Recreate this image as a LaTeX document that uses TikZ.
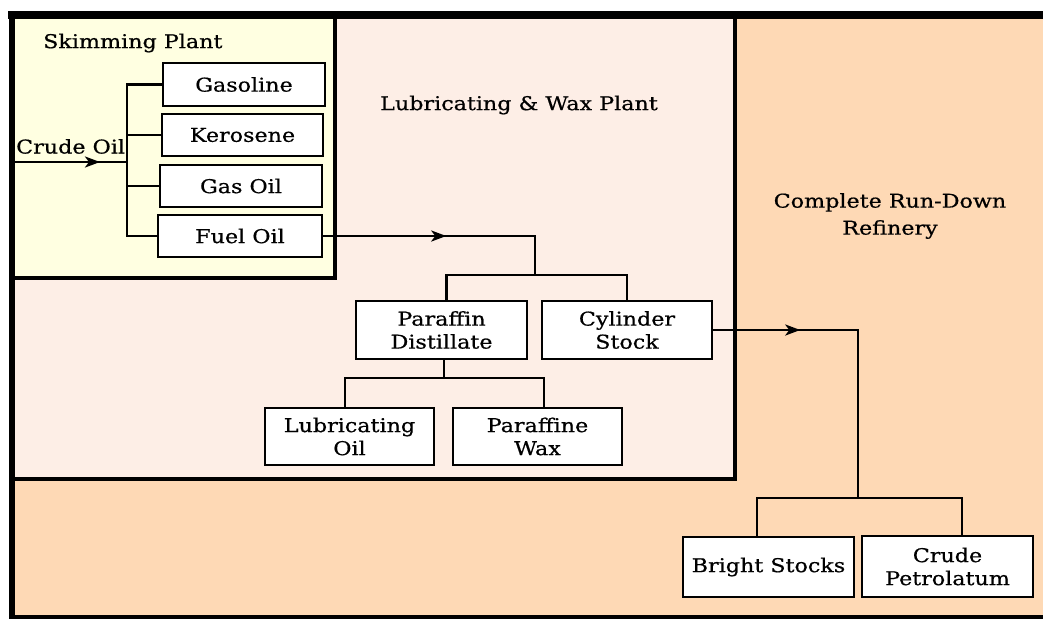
\documentclass[tikz,border=0pt]{standalone}
\usepackage{fontspec}
\setmainfont{DejaVu Serif}[FakeStretch=1.17,FakeBold=0.6]
\usetikzlibrary{arrows.meta}
\definecolor{peach}{HTML}{FED9B5}
\definecolor{pinkish}{HTML}{FDEEE6}
\definecolor{cream}{HTML}{FFFFE1}
\begin{document}
\begin{tikzpicture}[x=1pt,y=-1pt,
  box/.style={draw, line width=2.5pt, fill=white, inner sep=0pt, align=center,
    font=\fontsize{19}{23}\selectfont},
  lbl/.style={inner sep=0pt, align=center, font=\fontsize{19}{27}\selectfont},
  conn/.style={line width=2.5pt},
  tip/.style={line width=2.5pt, -{Stealth[length=15pt,width=11pt,inset=4pt]}},
  panel/.style={line width=3.5pt}]
\useasboundingbox (0,0) rectangle (1043,619);
% panels
\fill[white] (0,0) rectangle (1043,619);
\fill[peach] (12,14) rectangle (1043,617);
\fill[pinkish] (12,14) rectangle (735,479);
\draw[panel] (735,14) -- (735,479) -- (12,479);
\fill[cream] (12,14) rectangle (335,278);
\draw[panel] (335,14) -- (335,278) -- (12,278);
% outer frame
\draw[line width=8pt] (8,15) -- (1043,15);
\draw[line width=6pt] (12,11) -- (12,619);
\draw[line width=4pt] (9,617) -- (1043,617);
% titles
\node[lbl, anchor=west] (tskim) at (43,43) {Skimming Plant};
\node[lbl, anchor=west] (tlub) at (380,105) {Lubricating \& Wax Plant};
\node[lbl] (tref) at (890,216) {Complete Run-Down\\Refinery};
% skimming boxes
\node[box, minimum width=162pt, minimum height=43pt] (gas) at (244,84.5) {Gasoline};
\node[box, minimum width=161pt, minimum height=42pt] (ker) at (242.5,135) {Kerosene};
\node[box, minimum width=162pt, minimum height=42pt] (go) at (241,186) {Gas Oil};
\node[box, minimum width=164pt, minimum height=42pt] (fo) at (240,236) {Fuel Oil};
\coordinate (bus) at (127,84);
\coordinate (bus2) at (127,237);
\draw[conn] (gas.west) -- (gas.west -| bus) -- (bus2 |- fo.west) -- (fo.west);
\draw[conn] (ker.west) -- (ker.west -| bus);
\draw[conn] (go.west) -- (go.west -| bus);
\node[lbl, anchor=south west] (tcrude) at (16,154) {Crude Oil};
\coordinate (in) at (14,162);
\draw[conn] (in) -- (in -| bus);
\draw[tip] (in) -- ++(86,0);
% lubricating plant
\node[box, minimum width=171pt, minimum height=58pt] (pd) at (441.5,330) {Paraffin\\Distillate};
\node[box, minimum width=170pt, minimum height=58pt] (cs) at (627,330) {Cylinder\\Stock};
\node[box, minimum width=169pt, minimum height=57pt] (lo) at (349.5,436.5) {Lubricating\\Oil};
\node[box, minimum width=169pt, minimum height=57pt] (pw) at (537.5,436.5) {Paraffine\\Wax};
\coordinate (j1) at (535,275);
\draw[conn] (fo.east) -| (j1);
\draw[tip] (fo.east) -- ++(123,0);
\draw[conn] ([xshift=5pt]pd.north) |- (j1) -| (cs.north);
\coordinate (j2) at (444,378);
\draw[conn] ([xshift=2.5pt]pd.south) -- (j2);
\draw[conn] ([xshift=-4.5pt]lo.north) |- (j2) -| ([xshift=6.5pt]pw.north);
% refinery
\node[box, minimum width=171pt, minimum height=60pt] (bs) at (768.5,567) {Bright Stocks};
\node[box, minimum width=171pt, minimum height=61pt] (cp) at (947.5,566.5) {Crude\\Petrolatum};
\coordinate (j3) at (858,498);
\draw[conn] (cs.east) -| (j3);
\draw[tip] (cs.east) -- ++(87,0);
\draw[conn] ([xshift=-11.5pt]bs.north) |- (j3) -| ([xshift=14.5pt]cp.north);
\end{tikzpicture}
\end{document}
